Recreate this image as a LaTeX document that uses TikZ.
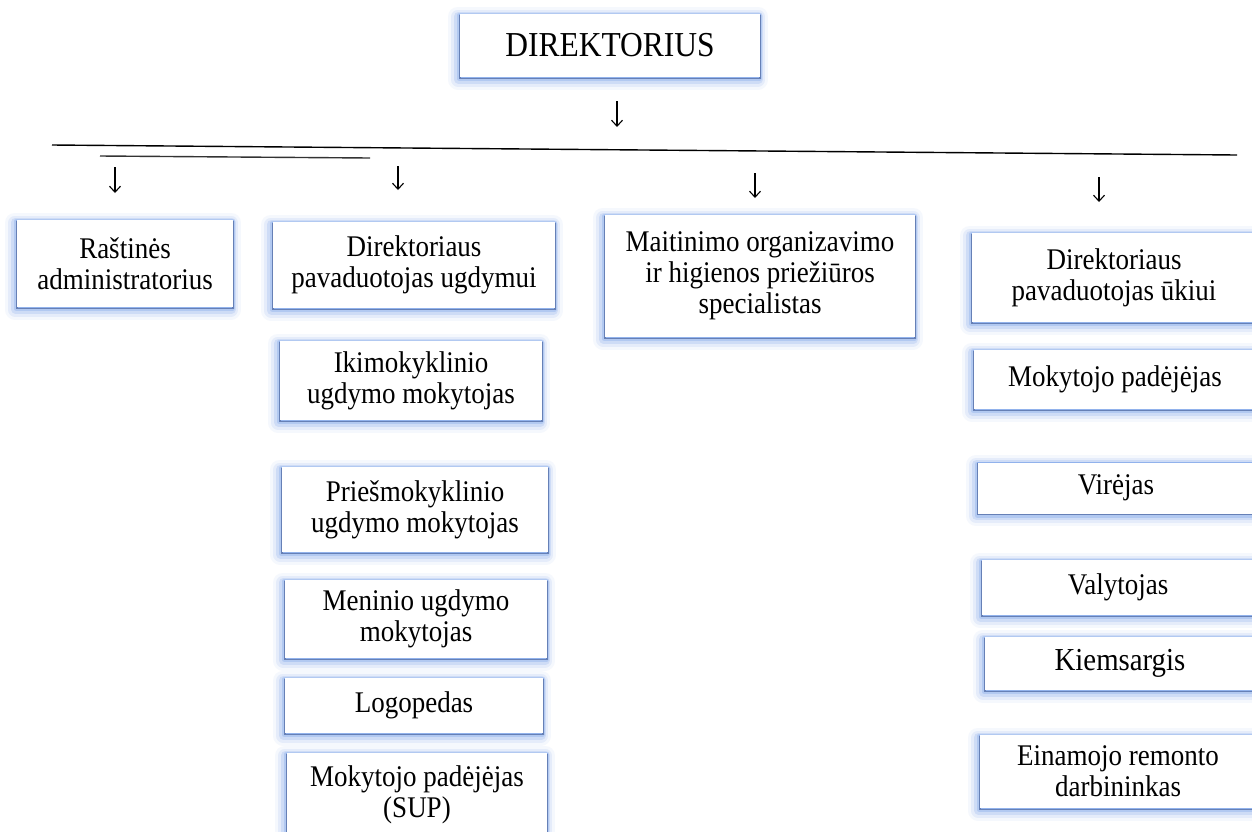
\documentclass[tikz,border=0pt]{standalone}
\usepackage{fontspec}
\setmainfont{Liberation Serif}[FakeStretch=0.9]
\usetikzlibrary{arrows.meta}
\definecolor{glowc}{RGB}{70,125,225}
\definecolor{edgec}{RGB}{60,80,130}
\tikzset{
  glow/.style={
    preaction={draw=glowc, line width=20pt, line join=round, draw opacity=0.05, transform canvas={xshift=-2pt,yshift=-2.5pt}},
    preaction={draw=glowc, line width=14pt, line join=round, draw opacity=0.09, transform canvas={xshift=-2pt,yshift=-2.5pt}},
    preaction={draw=glowc, line width=9pt, line join=round, draw opacity=0.14, transform canvas={xshift=-1.5pt,yshift=-2pt}},
    preaction={draw=glowc, line width=5pt, line join=round, draw opacity=0.2, transform canvas={xshift=-1pt,yshift=-1.5pt}},
    preaction={draw=glowc, line width=2pt, draw opacity=0.3, transform canvas={xshift=-0.5pt,yshift=-0.5pt}},
    preaction={draw=edgec, line width=1.3pt, draw opacity=0.5, transform canvas={yshift=-1.3pt}}
  },
  box/.style 2 args={glow, fill=white, draw=none, align=center, inner sep=0pt,
    minimum width=#1pt, minimum height=#2pt,
    font=\fontsize{30}{31}\selectfont},
  arr/.style={line width=1.1pt, -{Straight Barb[length=6pt,width=11pt,line width=1.1pt]}},
  hline/.style={line width=1.4pt}
}
\begin{document}
\begin{tikzpicture}[x=1pt,y=-1pt]
\useasboundingbox (0,0) rectangle (1252,831);
\fill[white] (0,0) rectangle (1252,831);

% top
\node[box={300}{63}, font=\fontsize{35}{38}\selectfont] (dir) at (610,45.5) {DIREKTORIUS};

% column 1
\node[box={216}{87}] (rast) at (125,263.5) {Raštinės\\administratorius};

% column 2
\node[box={282}{86}] (pug) at (414,265) {Direktoriaus\\pavaduotojas ugdymui};
\node[box={262}{79}] (iki) at (411,380.5) {Ikimokyklinio\\ugdymo mokytojas};
\node[box={266}{85}] (pries) at (415,509.5) {Priešmokyklinio\\ugdymo mokytojas};
\node[box={262}{78}] (men) at (416,619) {Meninio ugdymo\\mokytojas};
\node[box={258}{55}] (logo) at (414,705.5) {Logopedas};
\node[box={260}{84}] (sup) at (417,795) {Mokytojo padėjėjas\\(SUP)};

% column 3
\node[box={310}{122}] (maist) at (760,276) {Maitinimo organizavimo\\ir higienos priežiūros\\specialistas};

% column 4
\node[box={284}{89}] (puk) at (1114,277.5) {Direktoriaus\\pavaduotojas ūkiui};
\node[box={282}{59}] (mp) at (1115,379.5) {Mokytojo padėjėjas};
\node[box={276}{51}] (vir) at (1116,488) {Virėjas};
\node[box={272}{55}] (val) at (1118,587.5) {Valytojas};
\node[box={270}{53}, font=\fontsize{32}{34}\selectfont] (kiem) at (1120,663.5) {Kiemsargis};
\node[box={276}{73}] (rem) at (1118,771.5) {Einamojo remonto\\darbininkas};

% lines
\coordinate (h1a) at (52,145);
\coordinate (h1b) at (1237,155);
\coordinate (h2a) at (100,156);
\coordinate (h2b) at (370,158);
\draw[hline] (h1a) -- (h1b);
\draw[hline, black!80] (h2a) -- (h2b);

% arrows
\coordinate (a0s) at (617,101); \coordinate (a0e) at (617,127);
\coordinate (a1s) at (115,167); \coordinate (a1e) at (115,193);
\coordinate (a2s) at (398,166); \coordinate (a2e) at (398,190);
\coordinate (a3s) at (755,173); \coordinate (a3e) at (755,198);
\coordinate (a4s) at (1099,177); \coordinate (a4e) at (1099,202);
\draw[arr] (a0s) -- (a0e);
\draw[arr] (a1s) -- (a1e);
\draw[arr] (a2s) -- (a2e);
\draw[arr] (a3s) -- (a3e);
\draw[arr] (a4s) -- (a4e);
\end{tikzpicture}
\end{document}
